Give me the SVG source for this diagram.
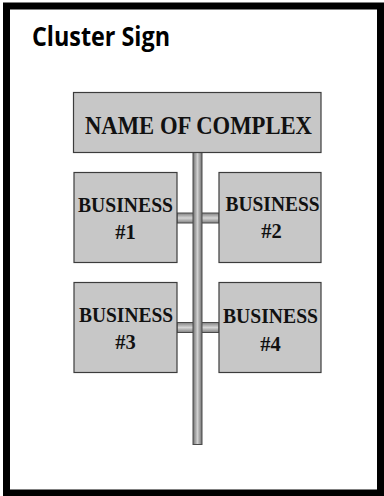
<svg xmlns="http://www.w3.org/2000/svg" width="384" height="496" viewBox="0 0 384 496">
<defs>
<style>
.box{fill:#c7c7c7;stroke:#3c3c3c;stroke-width:1.2}
.lbl{font-family:"Liberation Serif","Times New Roman",serif;font-weight:bold;fill:#111;text-anchor:middle}
.bar{stroke:#4a4a4a;stroke-width:1}
</style>
<linearGradient id="gv" x1="0" y1="0" x2="1" y2="0">
<stop offset="0" stop-color="#707070"/>
<stop offset="0.5" stop-color="#d0d0d0"/>
<stop offset="1" stop-color="#707070"/>
</linearGradient>
<linearGradient id="gh" x1="0" y1="0" x2="0" y2="1">
<stop offset="0" stop-color="#808080"/>
<stop offset="0.5" stop-color="#d6d6d6"/>
<stop offset="1" stop-color="#808080"/>
</linearGradient>
</defs>
<rect width="384" height="496" fill="#ffffff"/>
<rect x="6.5" y="6" width="374" height="487" fill="none" stroke="#000" stroke-width="7"/>
<text x="32" y="46" font-family="'Open Sans','Liberation Sans',sans-serif" font-weight="bold" font-size="26" textLength="138" lengthAdjust="spacingAndGlyphs" fill="#000">Cluster Sign</text>
<g id="connectors">
<rect class="bar" x="177" y="213" width="42" height="10" fill="url(#gh)"/>
<rect class="bar" x="177" y="322.5" width="42" height="10" fill="url(#gh)"/>
<rect class="bar" x="193" y="152.5" width="9" height="292" fill="url(#gv)"/>
</g>
<g id="name">
<rect class="box" x="73.5" y="92.5" width="247.5" height="60"/>
<text class="lbl" x="198.5" y="134" font-size="25" textLength="227" lengthAdjust="spacingAndGlyphs">NAME OF COMPLEX</text>
</g>
<g id="b1">
<rect class="box" x="74" y="172.5" width="103" height="90"/>
<text class="lbl" x="125.5" y="211.5" font-size="20.5" textLength="95" lengthAdjust="spacingAndGlyphs">BUSINESS</text>
<text class="lbl" x="125.5" y="239" font-size="20.5">#1</text>
</g>
<g id="b2">
<rect class="box" x="219" y="172.5" width="102" height="90"/>
<text class="lbl" x="272.5" y="210.5" font-size="20.5" textLength="94" lengthAdjust="spacingAndGlyphs">BUSINESS</text>
<text class="lbl" x="271.5" y="238" font-size="20.5">#2</text>
</g>
<g id="b3">
<rect class="box" x="74" y="282.5" width="103" height="90"/>
<text class="lbl" x="126" y="321.5" font-size="20.5" textLength="94" lengthAdjust="spacingAndGlyphs">BUSINESS</text>
<text class="lbl" x="125.5" y="349" font-size="20.5">#3</text>
</g>
<g id="b4">
<rect class="box" x="219" y="282.5" width="102" height="90"/>
<text class="lbl" x="270.5" y="323" font-size="20.5" textLength="95" lengthAdjust="spacingAndGlyphs">BUSINESS</text>
<text class="lbl" x="270.5" y="351" font-size="20.5">#4</text>
</g>
</svg>
